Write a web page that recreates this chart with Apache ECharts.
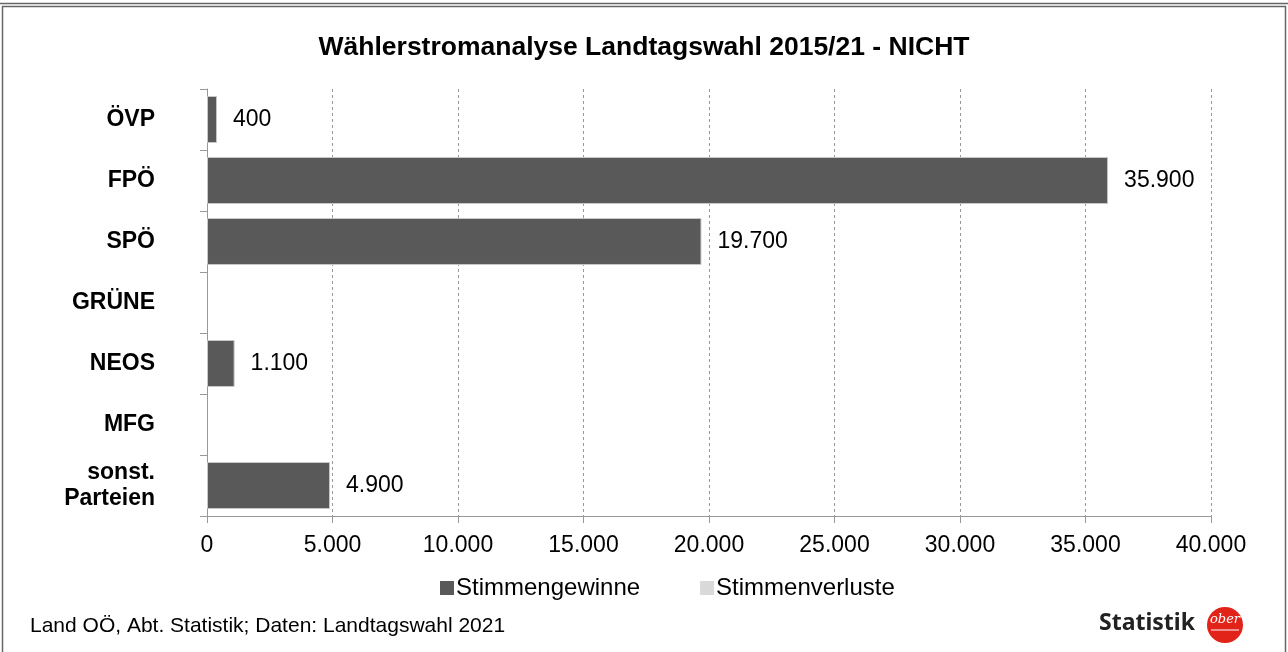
<!DOCTYPE html>
<html>
<head>
<meta charset="utf-8">
<script src="https://cdn.jsdelivr.net/npm/echarts@6/dist/echarts.min.js"></script>
<style>
  html, body { margin: 0; padding: 0; background: #fff; }
  #chart { width: 1288px; height: 652px; }
</style>
</head>
<body>
<div id="chart"></div>
<script>
// Daten
var parteien = ['ÖVP', 'FPÖ', 'SPÖ', 'GRÜNE', 'NEOS', 'MFG', 'sonst.\nParteien'];
var gewinne = [400, 35900, 19700, null, 1100, null, 4900];
var verluste = [null, null, null, null, null, null, null];
var xTicks = [0, 5000, 10000, 15000, 20000, 25000, 30000, 35000, 40000];

var fmt = function (v) { //deutsche Tausendertrennung
    return String(v).replace(/\B(?=(\d{3})+(?!\d))/g, '.');
};

var chart = echarts.init(document.getElementById('chart'));
chart.setOption({
    animation: false,
    textStyle: { fontFamily: 'Liberation Sans, Arial, sans-serif' },
    title: {
        text: 'Wählerstromanalyse Landtagswahl 2015/21 - NICHT',
        left: 'center',
        top: 29,
        textStyle: { fontSize: 26.5, fontWeight: 'bold', color: '#000' }
    },
    legend: {
        data: ['Stimmengewinne', 'Stimmenverluste'],
        top: 571,
        left: 435,
        itemWidth: 14,
        itemHeight: 14,
        itemGap: 60,
        icon: 'rect',
        itemStyle: { borderWidth: 0 },
        textStyle: { fontSize: 24, color: '#000', padding: [0, 0, 0, -3] }
    },
    grid: { left: 207, right: 77, top: 89, bottom: 136 },
    xAxis: {
        type: 'value',
        min: 0,
        max: 40000,
        interval: 5000,
        axisLine: { show: true, lineStyle: { color: '#999' } },
        axisTick: { show: true, length: 7, lineStyle: { color: '#999' } },
        axisLabel: {
            fontSize: 23, color: '#000', margin: 18,
            formatter: function (v) { return xTicks.indexOf(v) >= 0 ? fmt(v) : ''; }
        },
        splitLine: { show: true, lineStyle: { color: '#999', type: [3, 3] } }
    },
    yAxis: {
        type: 'category',
        inverse: true,
        data: parteien,
        axisLine: { show: true, lineStyle: { color: '#999' } },
        axisTick: { show: true, length: 7, lineStyle: { color: '#999' } },
        axisLabel: {
            fontSize: 23, fontWeight: 'bold', color: '#000', margin: 52,
            align: 'right', lineHeight: 26
        }
    },
    series: [
        {
            name: 'Stimmengewinne',
            type: 'bar',
            stack: 'a',
            data: gewinne,
            barCategoryGap: '23%',
            itemStyle: { color: '#595959', borderColor: '#c8c8c8', borderWidth: 1 },
            label: {
                show: true, position: 'right', distance: 16,
                fontSize: 23, color: '#000',
                formatter: function (p) { return fmt(p.value); }
            }
        },
        {
            name: 'Stimmenverluste',
            type: 'bar',
            stack: 'a',
            data: verluste,
            itemStyle: { color: '#d9d9d9' }
        }
    ],
    graphic: [
        { type: 'rect', shape: { x: 2.5, y: 6.5, width: 1283, height: 660 },
          style: { fill: 'none', stroke: '#666', lineWidth: 1.5 } },
        { type: 'line', shape: { x1: 0, y1: 3.5, x2: 1288, y2: 3.5 },
          style: { stroke: '#666', lineWidth: 1.5 } },
        { type: 'text', left: 30, top: 616,
          style: { text: 'Land OÖ, Abt. Statistik; Daten: Landtagswahl 2021',
                   fontSize: 21, fill: '#000', fontFamily: 'Liberation Sans, Arial, sans-serif' } },
        { type: 'text', left: 1099, top: 612,
          style: { text: 'Statistik', fontSize: 23, fontWeight: 'bold', fill: '#222',
                   fontFamily: 'Noto Sans, sans-serif' } },
        { type: 'circle', shape: { cx: 1225, cy: 625, r: 18 }, style: { fill: '#e2231a' } },
        { type: 'text', left: 1210, top: 613,
          style: { text: 'ober', fontSize: 13, fontStyle: 'italic', fill: '#fff',
                   fontFamily: 'DejaVu Serif, serif' } },
        { type: 'line', shape: { x1: 1211, y1: 630, x2: 1239, y2: 630 },
          style: { stroke: '#fff', lineWidth: 1 } }
    ]
});
</script>
</body>
</html>
